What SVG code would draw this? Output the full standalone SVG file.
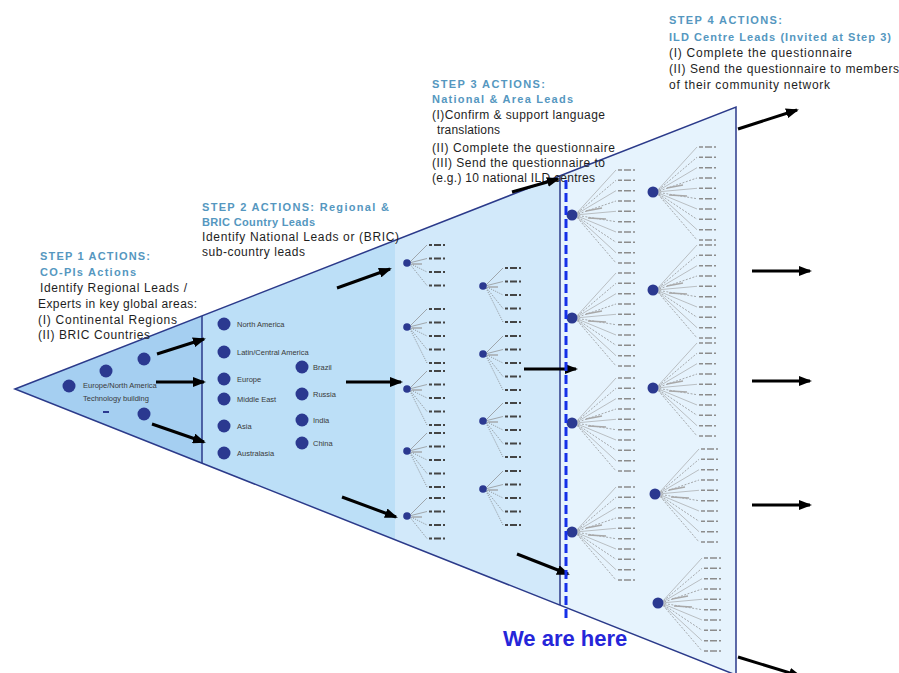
<svg xmlns="http://www.w3.org/2000/svg" xmlns:xlink="http://www.w3.org/1999/xlink" width="899" height="673" viewBox="0 0 899 673">
<defs>
<style>
.h{font-family:"Liberation Sans",Arial,sans-serif;font-size:11px;font-weight:bold;fill:#5597c0}
.b{font-family:"Liberation Sans",Arial,sans-serif;font-size:12px;fill:#1e1e1e}
.s{font-family:"Liberation Sans",Arial,sans-serif;font-size:7.5px;fill:#3a3a3a}
.dot{fill:#2b3990}
.edge{fill:none;stroke:#2b3a8a;stroke-width:1.5}
.arr{fill:none;stroke:#000;stroke-width:3;marker-end:url(#ah)}
.br{fill:none;stroke:#8a8a8a;stroke-width:0.7}
.brd{fill:none;stroke:#777;stroke-width:0.8;stroke-dasharray:1,1.3}
.lb{fill:none;stroke:#444;stroke-width:1.8}
.br2{fill:none;stroke:#9a9a9a;stroke-width:0.6}
.br2d{fill:none;stroke:#888;stroke-width:0.7;stroke-dasharray:2,1.5}
.lb2{fill:none;stroke:#8c8c8c;stroke-width:1.5}
</style>
<marker id="ah" markerUnits="userSpaceOnUse" markerWidth="13" markerHeight="10" refX="11" refY="5" orient="auto">
<path d="M0,0 L13,5 L0,10 z" fill="#000"/>
</marker>
<g id="t4">
<path class="br" d="M2,0 L20,-18"/>
<path class="br" d="M2,0 L20,-4.5"/>
<path stroke="#999" stroke-width="1.2" d="M5,1 L15,1"/>
<path class="brd" d="M2,0 L20,9 M2,0 L20,22.5"/>
<path class="lb" d="M22,-18h3m2,0h7m2,0h2 M22,-4.5h3m2,0h7m2,0h2 M22,9h3m2,0h7m2,0h2 M22,22.5h3m2,0h7m2,0h2"/>
<circle r="3.8" class="dot"/>
</g>
<g id="t5">
<path class="brd" d="M2,0 L20,36"/>
<path class="lb" d="M22,36h3m2,0h7m2,0h2"/>
<use href="#t4"/>
</g>
<g id="t10">
<path class="br2" d="M3,0L44,-45 M3,0L44,-24.3 M3,0L44,-3.7 M3,0L44,17 M3,0L44,37.7"/>
<path class="br2d" d="M3,0L44,-34.7 M3,0L44,-14 M3,0L44,6.7 M3,0L44,27.3 M3,0L44,48"/>
<path stroke="#a8a8a8" stroke-width="1.3" d="M14,-4L30,-7 M16,3L34,4"/>
<path class="lb2" d="M46,-45h4m2,0h7m2,0h2 M46,-34.7h4m2,0h7m2,0h2 M46,-24.3h4m2,0h7m2,0h2 M46,-14h4m2,0h7m2,0h2 M46,-3.7h4m2,0h7m2,0h2 M46,6.7h4m2,0h7m2,0h2 M46,17h4m2,0h7m2,0h2 M46,27.3h4m2,0h7m2,0h2 M46,37.7h4m2,0h7m2,0h2 M46,48h4m2,0h7m2,0h2"/>
<circle r="5.5" class="dot"/>
</g>
</defs>

<g id="funnel">
<polygon points="15,389 202,316 202,463" fill="#a5cff1"/>
<polygon points="202,316 395,240.6 395,539.6 202,463" fill="#bcdff7"/>
<polygon points="395,240.6 560,176 560,605 395,539.6" fill="#d2e9fa"/>
<polygon points="560,176 736,107 736,675 560,605" fill="#e6f3fd"/>
<polygon class="edge" points="15,389 736,107 736,675"/>
<line class="edge" x1="202" y1="316" x2="202" y2="463"/>
<line class="edge" x1="560" y1="176" x2="560" y2="605"/>
</g>

<g id="step1-text">
<text class="h" x="40" y="260" textLength="110">STEP 1 ACTIONS:</text>
<text class="h" x="40" y="276" textLength="96">CO-PIs Actions</text>
<text class="b" x="40" y="292" textLength="147">Identify Regional Leads /</text>
<text class="b" x="38" y="308" textLength="159">Experts in key global areas:</text>
<text class="b" x="38" y="324" textLength="139">(I) Continental Regions</text>
<text class="b" x="38" y="339" textLength="112">(II) BRIC Countries</text>
</g>
<g id="step2-text">
<text class="h" x="202" y="211" textLength="187">STEP 2 ACTIONS: Regional &amp;</text>
<text class="h" x="202" y="226" textLength="113">BRIC Country Leads</text>
<text class="b" x="202" y="241" textLength="197">Identify National Leads or (BRIC)</text>
<text class="b" x="202" y="256" textLength="103">sub-country leads</text>
</g>
<g id="step3-text">
<text class="h" x="432" y="88" textLength="113">STEP 3 ACTIONS:</text>
<text class="h" x="432" y="103" textLength="141">National &amp; Area Leads</text>
<text class="b" x="432" y="119" textLength="173">(I)Confirm &amp; support language</text>
<text class="b" x="437" y="134" textLength="63">translations</text>
<text class="b" x="432" y="152" textLength="183">(II) Complete the questionnaire</text>
<text class="b" x="432" y="167" textLength="173">(III) Send the questionnaire to</text>
<text class="b" x="432" y="182" textLength="163">(e.g.) 10 national ILD centres</text>
</g>
<g id="step4-text">
<text class="h" x="669" y="24" textLength="113">STEP 4 ACTIONS:</text>
<text class="h" x="669" y="41" textLength="222">ILD Centre Leads (Invited at Step 3)</text>
<text class="b" x="669" y="57" textLength="183">(I) Complete the questionnaire</text>
<text class="b" x="669" y="73" textLength="230">(II) Send the questionnaire to members</text>
<text class="b" x="669" y="89" textLength="161">of their community network</text>
</g>

<g id="step1-nodes">
<g id="n-s1-a"><circle class="dot" cx="69" cy="386" r="6.5"/>
<text class="s" x="83" y="388" font-size="7">Europe/North America</text>
<text class="s" x="83" y="401" font-size="7">Technology building</text>
<path d="M103,412h6" stroke="#2b3990" stroke-width="2"/></g>
<g id="n-s1-b"><circle class="dot" cx="106" cy="371" r="6.5"/></g>
<g id="n-s1-c"><circle class="dot" cx="144" cy="359" r="6.5"/></g>
<g id="n-s1-d"><circle class="dot" cx="144" cy="414" r="6.5"/></g>
</g>

<g id="step2-nodes">
<g id="n-north-america"><circle class="dot" cx="224" cy="324" r="6.5"/><text class="s" x="237" y="327">North America</text></g>
<g id="n-latin-america"><circle class="dot" cx="224" cy="352" r="6.5"/><text class="s" x="237" y="355">Latin/Central America</text></g>
<g id="n-europe"><circle class="dot" cx="224" cy="379" r="6.5"/><text class="s" x="237" y="382">Europe</text></g>
<g id="n-middle-east"><circle class="dot" cx="224" cy="399" r="6.5"/><text class="s" x="237" y="402">Middle East</text></g>
<g id="n-asia"><circle class="dot" cx="224" cy="426" r="6.5"/><text class="s" x="237" y="429">Asia</text></g>
<g id="n-australasia"><circle class="dot" cx="224" cy="453" r="6.5"/><text class="s" x="237" y="456">Australasia</text></g>
<g id="n-brazil"><circle class="dot" cx="302" cy="367" r="6.5"/><text class="s" x="313" y="370">Brazil</text></g>
<g id="n-russia"><circle class="dot" cx="302" cy="394" r="6.5"/><text class="s" x="313" y="397">Russia</text></g>
<g id="n-india"><circle class="dot" cx="302" cy="420" r="6.5"/><text class="s" x="313" y="423">India</text></g>
<g id="n-china"><circle class="dot" cx="302" cy="443" r="6.5"/><text class="s" x="313" y="446">China</text></g>
</g>

<g id="step3-nodes">
<g id="n-s3-1"><use href="#t4" x="407" y="263"/></g>
<g id="n-s3-2"><use href="#t5" x="407" y="327"/></g>
<g id="n-s3-3"><use href="#t5" x="407" y="389"/></g>
<g id="n-s3-4"><use href="#t5" x="407" y="451"/></g>
<g id="n-s3-5"><use href="#t4" x="407" y="516"/></g>
<g id="n-s3-6"><use href="#t5" x="483" y="286"/></g>
<g id="n-s3-7"><use href="#t5" x="483" y="354"/></g>
<g id="n-s3-8"><use href="#t5" x="483" y="421"/></g>
<g id="n-s3-9"><use href="#t5" x="483" y="489"/></g>
</g>

<g id="step4-nodes">
<g id="n-s4-1"><use href="#t10" x="572" y="215"/></g>
<g id="n-s4-2"><use href="#t10" x="572" y="318"/></g>
<g id="n-s4-3"><use href="#t10" x="572" y="423"/></g>
<g id="n-s4-4"><use href="#t10" x="572" y="532"/></g>
<g id="n-s4-5"><use href="#t10" x="653" y="192"/></g>
<g id="n-s4-6"><use href="#t10" x="653" y="290"/></g>
<g id="n-s4-7"><use href="#t10" x="653" y="388"/></g>
<g id="n-s4-8"><use href="#t10" x="655" y="494"/></g>
<g id="n-s4-9"><use href="#t10" x="658" y="603"/></g>
</g>

<g id="connectors">
<line class="arr" x1="157" y1="354" x2="204" y2="339"/>
<line class="arr" x1="156" y1="382" x2="204" y2="382"/>
<line class="arr" x1="152" y1="424" x2="204" y2="442"/>
<line class="arr" x1="337" y1="288" x2="390" y2="269"/>
<line class="arr" x1="346" y1="382" x2="401" y2="382"/>
<line class="arr" x1="342" y1="497" x2="396" y2="517"/>
<line class="arr" x1="512" y1="192" x2="558" y2="179"/>
<line class="arr" x1="524" y1="369" x2="576" y2="369"/>
<line class="arr" x1="517" y1="554" x2="568" y2="574"/>
<line class="arr" x1="738" y1="129" x2="797" y2="110"/>
<line class="arr" x1="752" y1="271" x2="810" y2="271"/>
<line class="arr" x1="752" y1="381" x2="810" y2="381"/>
<line class="arr" x1="752" y1="505" x2="810" y2="505"/>
<line class="arr" x1="738" y1="657" x2="800" y2="676"/>
</g>

<g id="we-are-here">
<line x1="566" y1="180" x2="566" y2="622" stroke="#1530e8" stroke-width="3" stroke-dasharray="9,4"/>
<text x="503" y="646" font-family="'Liberation Sans',Arial,sans-serif" font-size="22" font-weight="bold" fill="#2626d9">We are here</text>
</g>
</svg>
